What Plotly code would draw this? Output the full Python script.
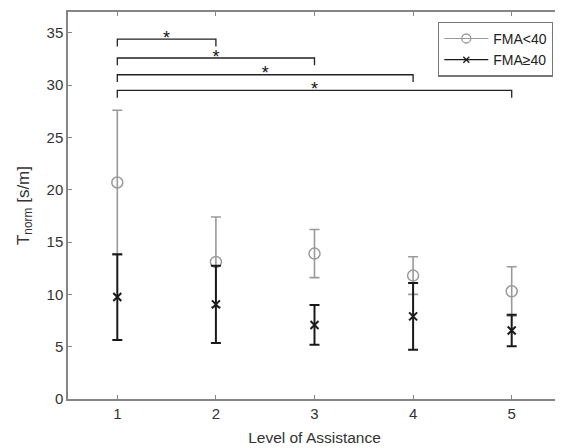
import plotly.graph_objects as go

# ---- data ----
levels = [1, 2, 3, 4, 5]
fma_low_mean = [20.7, 13.1, 13.9, 11.8, 10.3]
fma_low_err = [6.9, 4.3, 2.3, 1.8, 2.35]
fma_high_mean = [9.75, 9.05, 7.08, 7.9, 6.55]
fma_high_err = [4.1, 3.7, 1.9, 3.2, 1.5]

# significance brackets: (from level, to level, bracket height)
sig_from = [1, 1, 1, 1]
sig_to = [2, 3, 4, 5]
sig_height = [34.4, 32.6, 31.0, 29.5]
sig_drop = 0.7
sig_label = "*"

x_ticks = [1, 2, 3, 4, 5]
y_ticks = [0, 5, 10, 15, 20, 25, 30, 35]

GREY = "#9a9a9a"
BLACK = "#1a1a1a"
AXIS = "#858585"
FONT = "Liberation Sans, Arial, sans-serif"

fig = go.Figure()

# FMA<40
fig.add_trace(go.Scatter(
    x=levels, y=fma_low_mean, mode="markers", showlegend=False,
    marker=dict(symbol="circle-open", size=11, color=GREY, line=dict(width=1.5, color=GREY)),
    error_y=dict(type="data", array=fma_low_err, color=GREY, thickness=1.6, width=5),
))
# FMA>=40
fig.add_trace(go.Scatter(
    x=levels, y=fma_high_mean, mode="markers", showlegend=False,
    marker=dict(symbol="x-thin-open", size=8, color=BLACK, line=dict(width=2, color=BLACK)),
    error_y=dict(type="data", array=fma_high_err, color=BLACK, thickness=2, width=5),
))

# legend entries
fig.add_trace(go.Scatter(
    x=[None], y=[None], mode="lines+markers", name="FMA<40",
    line=dict(color=GREY, width=1.2),
    marker=dict(symbol="circle-open", size=9, color=GREY, line=dict(width=1.3, color=GREY)),
))
fig.add_trace(go.Scatter(
    x=[None], y=[None], mode="lines+markers", name="FMA≥40",
    line=dict(color=BLACK, width=1.2),
    marker=dict(symbol="x-thin-open", size=6, color=BLACK, line=dict(width=1.3, color=BLACK)),
))

# significance brackets
for a, b, h in zip(sig_from, sig_to, sig_height):
    fig.add_trace(go.Scatter(
        x=[a, a, b, b], y=[h - sig_drop, h, h, h - sig_drop], mode="lines",
        line=dict(color="#222222", width=1.3), showlegend=False, hoverinfo="skip",
    ))
    fig.add_trace(go.Scatter(
        x=[(a + b) / 2], y=[h], mode="text", text=[sig_label],
        textposition="middle center", textfont=dict(size=18, color="#111111", family=FONT),
        showlegend=False, hoverinfo="skip",
    ))

# page body has an 8px margin; figure is sized/placed to compensate
fig.update_layout(
    width=555, height=440,
    margin=dict(l=60, r=2, t=4, b=49, autoexpand=False),
    paper_bgcolor="white", plot_bgcolor="white",
    font=dict(family=FONT, size=14, color="#333333"),
    legend=dict(
        x=0.984, y=0.975, xanchor="right", yanchor="top",
        bgcolor="white", bordercolor="#777777", borderwidth=1.2,
        font=dict(size=14, color="#222222"),
        tracegroupgap=0, itemwidth=44,
    ),
    xaxis=dict(
        range=[0.5, 5.5], tickvals=x_ticks, ticks="inside", ticklen=4,
        tickcolor=AXIS, showline=True, linecolor=AXIS, linewidth=1.5, mirror="allticks",
        showgrid=False, zeroline=False, automargin=False,
        title=dict(text="Level of Assistance", font=dict(size=15.5), standoff=11),
        tickfont=dict(size=15, color="#333333"),
    ),
    yaxis=dict(
        range=[0, 37], tickvals=y_ticks, ticks="inside", ticklen=4,
        tickcolor=AXIS, showline=True, linecolor=AXIS, linewidth=1.5, mirror="allticks",
        showgrid=False, zeroline=False, automargin=False,
        title=dict(text="T<sub>norm</sub> [s/m]", font=dict(size=17), standoff=13),
        tickfont=dict(size=15, color="#333333"),
    ),
)

fig.write_html("out.html")
